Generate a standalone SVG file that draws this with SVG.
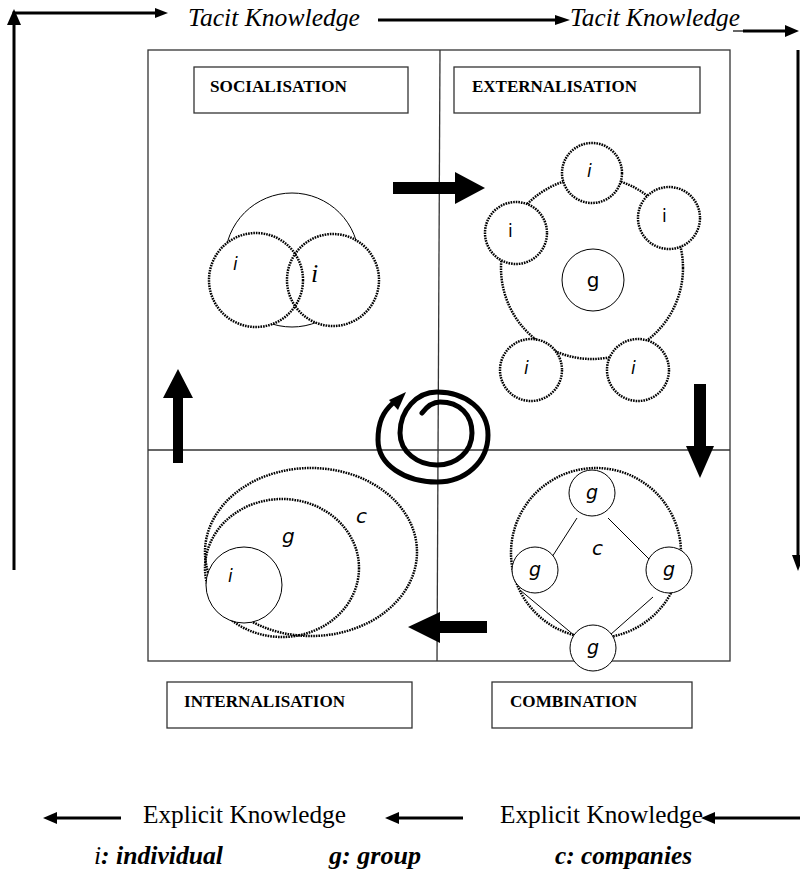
<svg xmlns="http://www.w3.org/2000/svg" width="800" height="876" viewBox="0 0 800 876">
<style>
.ser{font-family:"Liberation Serif","Times New Roman",serif;fill:#000}
.big{font-size:25px}
.it{font-style:italic}
.lab{font-size:17px;font-weight:bold}
.leg{font-size:25px;font-weight:bold;font-style:italic}
.sans{font-family:"DejaVu Sans",sans-serif;fill:#000}
.dot{fill:none;stroke:#000;stroke-width:2.5;stroke-dasharray:1.6 1}
.dotw{fill:#fff;stroke:#000;stroke-width:2.5;stroke-dasharray:1.6 1}
.thin{fill:none;stroke:#000;stroke-width:1}
.thinw{fill:#fff;stroke:#000;stroke-width:1}
.frame{fill:none;stroke:#333;stroke-width:1.3}
.ln{stroke:#000;stroke-width:3;fill:none}
.blk{fill:#000}
.box{fill:#fff;stroke:#333;stroke-width:1.3}
</style>

<g id="frame">
<rect class="frame" x="148" y="50" width="582" height="611"/>
<line class="frame" x1="440" y1="50" x2="437" y2="661"/>
<line class="frame" x1="148" y1="450" x2="730" y2="450"/>
</g>

<g id="connectors">
<polyline class="ln" points="14,570 14,13 156,13"/>
<polygon class="blk" points="7,25 14,9 21,25"/>
<polygon class="blk" points="155,8 168,13 155,18"/>
<line class="ln" x1="378" y1="20" x2="557" y2="20"/>
<polygon class="blk" points="555,15 570,20 555,25"/>
<line class="ln" x1="743" y1="31" x2="787" y2="31"/>
<polygon class="blk" points="785,25 799,31 785,37"/>
<line class="ln" x1="798" y1="50" x2="798" y2="557"/>
<polygon class="blk" points="792,555 804,555 798,571"/>
<line class="ln" x1="800" y1="818" x2="713" y2="818"/>
<polygon class="blk" points="715,812 701,818 715,824"/>
<line class="ln" x1="463" y1="818" x2="397" y2="818"/>
<polygon class="blk" points="399,812 385,818 399,824"/>
<line class="ln" x1="121" y1="818" x2="55" y2="818"/>
<polygon class="blk" points="57,812 43,818 57,824"/>
<polygon class="blk" points="393,182 455,182 455,172 485,188 455,204 455,194 393,194"/>
<polygon class="blk" points="694,384 706,384 706,446 714,446 700,478 686,446 694,446"/>
<polygon class="blk" points="487,621 440,621 440,612 408,627 440,643 440,633 487,633"/>
<polygon class="blk" points="173,463 173,398 163,398 178,369 193,398 183,398 183,463"/>
<path d="M422,413 C428,405 434,402 440,402 C460,402 472,415 472,433 C472,452 456,465 437,465 C418,465 400,452 400,433 C400,410 417,392 437,392 C466,392 488,410 488,435 C488,462 465,482 437,482 C405,482 378,465 378,440 C378,422 383,412 393,403" fill="none" stroke="#000" stroke-width="5" stroke-linecap="round"/>
<polygon class="blk" points="389,400 406,392 398,410"/>
</g>

<g id="socialisation">
<rect class="box" x="194" y="67" width="214" height="46"/>
<text class="ser lab" x="210" y="92" textLength="137" lengthAdjust="spacingAndGlyphs">SOCIALISATION</text>
<circle class="thin" cx="292" cy="260" r="67"/>
<circle fill="#fff" cx="256" cy="280" r="47"/>
<circle fill="#fff" cx="333" cy="280" r="46"/>
<circle class="dot" cx="333" cy="280" r="46"/>
<circle class="dot" cx="256" cy="280" r="47"/>
<text class="sans it" font-size="17" x="233" y="270">i</text>
<text class="ser it" font-size="26" x="311" y="282">i</text>
</g>

<g id="externalisation">
<rect class="box" x="454" y="67" width="246" height="46"/>
<text class="ser lab" x="472" y="92" textLength="165" lengthAdjust="spacingAndGlyphs">EXTERNALISATION</text>
<circle class="dot" cx="592" cy="268" r="91"/>
<circle class="thin" cx="593" cy="280" r="31"/>
<text class="sans" font-size="20" x="593" y="287" text-anchor="middle">g</text>
<circle class="dotw" cx="592" cy="173" r="30"/>
<text class="sans it" font-size="17" x="587" y="177">i</text>
<circle class="dotw" cx="669" cy="218" r="31"/>
<text class="sans" font-size="17" x="662" y="222">i</text>
<circle class="dotw" cx="516" cy="233" r="31"/>
<text class="sans" font-size="17" x="508" y="237">i</text>
<circle class="dotw" cx="531" cy="370" r="31"/>
<text class="sans it" font-size="17" x="524" y="374">i</text>
<circle class="dotw" cx="638" cy="370" r="31"/>
<text class="sans it" font-size="17" x="631" y="374">i</text>
</g>

<g id="internalisation">
<rect class="box" x="167" y="682" width="245" height="46"/>
<text class="ser lab" x="184" y="707" textLength="161" lengthAdjust="spacingAndGlyphs">INTERNALISATION</text>
<ellipse class="dot" cx="311" cy="552" rx="106" ry="84"/>
<ellipse class="dot" cx="282" cy="568" rx="77" ry="69"/>
<circle class="thinw" cx="244" cy="585" r="38"/>
<text class="sans it" font-size="20" x="356" y="523">c</text>
<text class="sans it" font-size="20" x="282" y="543">g</text>
<text class="sans it" font-size="17" x="228" y="582">i</text>
</g>

<g id="combination">
<rect class="box" x="492" y="682" width="200" height="46"/>
<text class="ser lab" x="510" y="707" textLength="127" lengthAdjust="spacingAndGlyphs">COMBINATION</text>
<circle class="dot" cx="596" cy="553" r="85"/>
<line class="thin" x1="577" y1="518" x2="552" y2="557"/>
<line class="thin" x1="608" y1="518" x2="654" y2="564"/>
<line class="thin" x1="520" y1="590" x2="575" y2="636"/>
<line class="thin" x1="653" y1="597" x2="610" y2="635"/>
<circle class="thinw" cx="592" cy="493" r="23"/>
<circle class="thinw" cx="535" cy="570" r="23"/>
<circle class="thinw" cx="669" cy="570" r="23"/>
<circle class="thinw" cx="593" cy="648" r="23"/>
<text class="sans it" font-size="19" x="592" y="499" text-anchor="middle">g</text>
<text class="sans it" font-size="19" x="535" y="576" text-anchor="middle">g</text>
<text class="sans it" font-size="19" x="669" y="576" text-anchor="middle">g</text>
<text class="sans it" font-size="19" x="593" y="654" text-anchor="middle">g</text>
<text class="sans it" font-size="20" x="592" y="555">c</text>
</g>

<g id="labels">
<text class="ser big it" x="188" y="26" textLength="172" lengthAdjust="spacingAndGlyphs">Tacit Knowledge</text>
<text class="ser big it" x="570" y="26" textLength="170" lengthAdjust="spacingAndGlyphs">Tacit Knowledge</text>
<line x1="733" y1="31" x2="745" y2="31" stroke="#000" stroke-width="1.2"/>
<text class="ser big" x="143" y="823" textLength="203" lengthAdjust="spacingAndGlyphs">Explicit Knowledge</text>
<text class="ser big" x="500" y="823" textLength="203" lengthAdjust="spacingAndGlyphs">Explicit Knowledge</text>
<text class="ser leg" x="94" y="864" textLength="129" lengthAdjust="spacingAndGlyphs"><tspan font-weight="normal">i</tspan>: individual</text>
<text class="ser leg" x="329" y="864" textLength="92" lengthAdjust="spacingAndGlyphs">g: group</text>
<text class="ser leg" x="555" y="864" textLength="137" lengthAdjust="spacingAndGlyphs">c: companies</text>
</g>
</svg>
